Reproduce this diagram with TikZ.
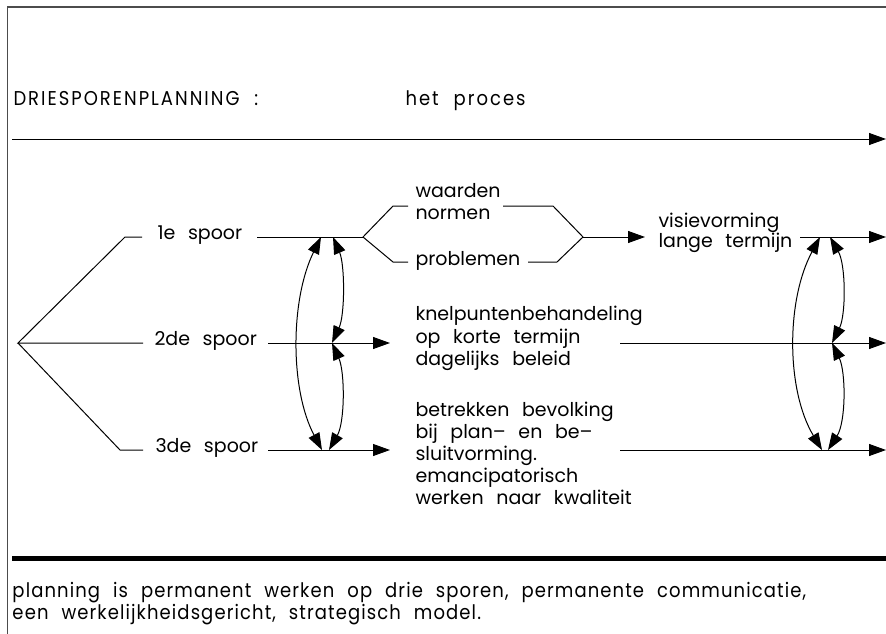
\documentclass[tikz,border=0pt]{standalone}
\usepackage{fontspec}
\setmainfont{Poppins}
\newfontfamily\cad{Poppins}[WordSpace=2.5]
\newfontfamily\cadt{Poppins}[WordSpace=2.2,FakeStretch=0.9,LetterSpace=10]
\newfontfamily\cadn{Poppins}[WordSpace=2.2,FakeStretch=0.9,LetterSpace=5.5]
\usetikzlibrary{arrows.meta}
\begin{document}
\begin{tikzpicture}[x=1pt,y=-1pt,line width=1pt,
  tip/.tip={Triangle[length=17pt,width=12pt]},
  txt/.style={font=\cad\fontsize{19}{22}\selectfont,inner sep=0pt,anchor=mid west},
  ttl/.style={font=\cadt\fontsize{20}{22}\selectfont,inner sep=0pt,anchor=mid west},
  note/.style={font=\cadn\fontsize{20}{22}\selectfont,inner sep=0pt,anchor=mid west},
  flow/.style={-{tip}},
  link/.style={{tip}-{tip}},
  frame/.style={draw=black!70,line width=1.2pt}]
\useasboundingbox (0,0) rectangle (886,634);
% frame
\coordinate (fbl) at (7.5,634);
\coordinate (ftl) at (7.5,7);
\coordinate (ftr) at (886,7);
\draw[frame] (fbl) -- (ftl) -- (ftr);
% title
\node[ttl] (title) at (13,103) {DRIESPORENPLANNING :};
\node[ttl] (proc) at (405,103) {het proces};
\coordinate (p0) at (12,139);
\coordinate (p1) at (886,139);
\draw[flow] (p0) -- (p1);
% fan
\coordinate (apex) at (18,343);
\coordinate (b1) at (125,237);
\coordinate (b1e) at (142,237);
\coordinate (b2e) at (143,343);
\coordinate (b3) at (120,450);
\coordinate (b3e) at (143,450);
\draw (b1e) -- (b1) -- (apex) -- (b2e);
\draw (apex) -- (b3) -- (b3e);
\node[txt] (s1) at (157,237) {1e spoor};
\node[txt] (s2) at (154,343) {2de spoor};
\node[txt] (s3) at (155,450) {3de spoor};
% track 1
\coordinate (s1r) at (257,237);
\coordinate (v1) at (363,237);
\draw (s1r) -- (v1);
\coordinate (u1) at (393,206);
\coordinate (u2) at (408,206);
\coordinate (d1) at (393,262);
\coordinate (d2) at (408,262);
\draw (u2) -- (u1) -- (v1) -- (d1) -- (d2);
\node[txt] (w1) at (415,195) {waarden};
\node[txt] (w2) at (415,217) {normen};
\node[txt] (w3) at (415,263) {problemen};
\coordinate (u3) at (503,206);
\coordinate (u4) at (553,206);
\coordinate (d3) at (528,262);
\coordinate (d4) at (557,262);
\coordinate (v2) at (583,237);
\coordinate (v3) at (645,237);
\draw (u3) -- (u4) -- (v2) -- (d4) -- (d3);
\draw[flow] (v2) -- (v3);
\node[txt] (vis1) at (658,225) {visievorming};
\node[txt] (vis2) at (658,245) {lange termijn};
\coordinate (r1a) at (800,237);
\coordinate (r1b) at (886,237);
\draw[flow] (r1a) -- (r1b);
% track 2
\coordinate (s2r) at (268,343);
\coordinate (m2) at (390,343);
\draw[flow] (s2r) -- (m2);
\node[txt] (k1) at (415,318) {knelpuntenbehandeling};
\node[txt] (k2) at (415,341) {op korte termijn};
\node[txt] (k3) at (415,363) {dagelijks beleid};
\coordinate (r2a) at (620,343);
\coordinate (r2b) at (886,343);
\draw[flow] (r2a) -- (r2b);
% track 3
\coordinate (s3r) at (268,450);
\coordinate (m3) at (390,450);
\draw[flow] (s3r) -- (m3);
\node[txt] (e1) at (415,414) {betrekken bevolking};
\node[txt] (e2) at (415,436) {bij plan– en be–};
\node[txt] (e3) at (415,458) {sluitvorming.};
\node[txt] (e4) at (415,480) {emancipatorisch};
\node[txt] (e5) at (415,502) {werken naar kwaliteit};
\coordinate (r3a) at (620,450);
\coordinate (r3b) at (886,450);
\draw[flow] (r3a) -- (r3b);
% left links
\coordinate (la1) at (321,237);
\coordinate (la3) at (322,450);
\coordinate (lb1) at (333,237);
\coordinate (lb2) at (332,343);
\coordinate (lb3) at (329,450);
\draw[link] (la1) .. controls (290,300) and (290,390) .. (la3);
\draw[link] (lb1) .. controls (345,265) and (345,315) .. (lb2);
\draw[link] (lb2) .. controls (345,372) and (345,422) .. (lb3);
% right links
\coordinate (ra1) at (820,237);
\coordinate (ra3) at (822,450);
\coordinate (rb1) at (830,237);
\coordinate (rb2) at (832,343);
\coordinate (rb3) at (828,450);
\draw[link] (ra1) .. controls (786,300) and (786,390) .. (ra3);
\draw[link] (rb1) .. controls (846,265) and (846,315) .. (rb2);
\draw[link] (rb2) .. controls (846,372) and (846,422) .. (rb3);
% bottom
\coordinate (t0) at (12,558);
\coordinate (t1) at (886,558);
\draw[line width=5pt] (t0) -- (t1);
\node[note] (n1) at (12,595) {planning is permanent werken op drie sporen, permanente communicatie,};
\node[note] (n2) at (12,617) {een werkelijkheidsgericht, strategisch model.};
\end{tikzpicture}
\end{document}
